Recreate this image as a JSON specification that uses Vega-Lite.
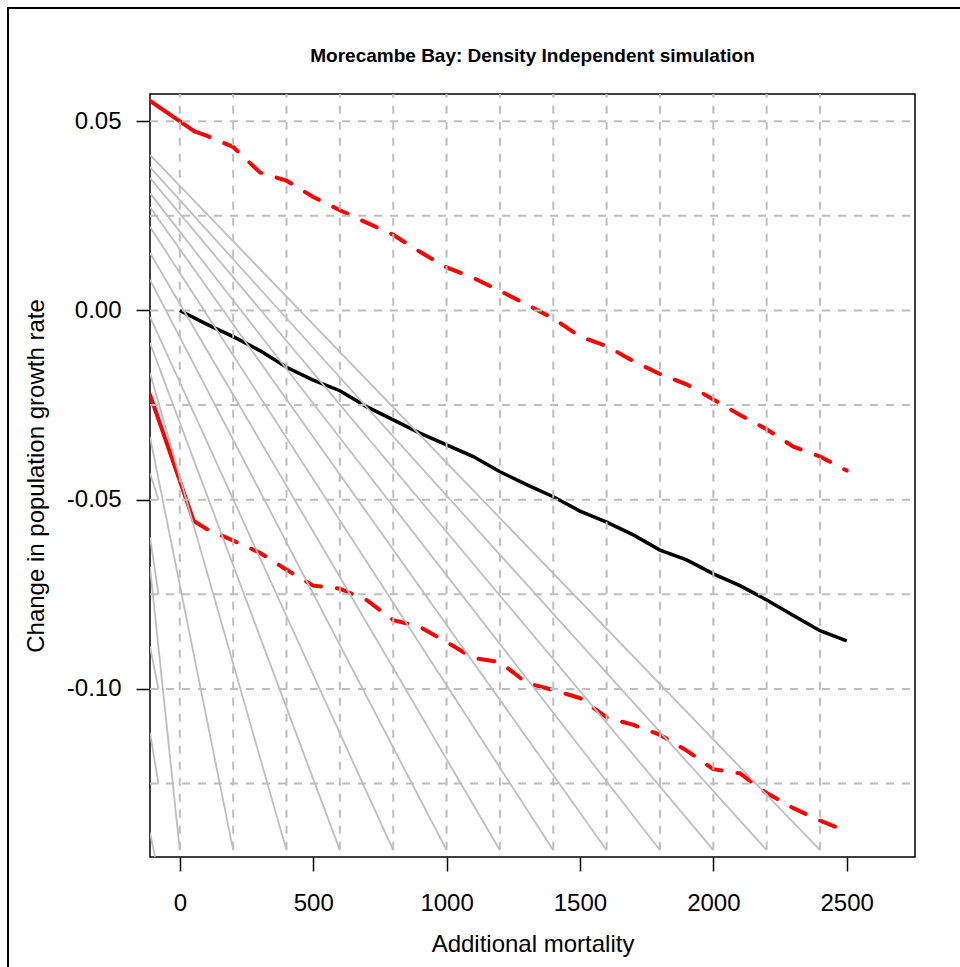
{
  "$schema": "https://vega.github.io/schema/vega-lite/v6.json",
  "width": 765,
  "height": 763,
  "autosize": "none",
  "padding": {"left": 150, "top": 94, "right": 45, "bottom": 110},
  "background": "white",
  "config": {
    "view": {"stroke": "black", "strokeWidth": 1.5},
    "font": "Liberation Sans",
    "axis": {"labelFont": "Liberation Sans", "titleFont": "Liberation Sans", "labelFontSize": 24, "titleFontSize": 24, "titleFontWeight": "normal", "labelColor": "black", "titleColor": "black", "tickColor": "black", "tickWidth": 1.5, "tickSize": 14, "domain": false, "grid": false}
  },
  "title": {"text": "Morecambe Bay: Density Independent simulation", "font": "Liberation Sans", "fontSize": 19, "fontWeight": "bold", "color": "black", "offset": 28, "dy": 87, "anchor": "middle"},
  "datasets": {
    "vgrid": [{"x": 0}, {"x": 200}, {"x": 400}, {"x": 600}, {"x": 800}, {"x": 1000}, {"x": 1200}, {"x": 1400}, {"x": 1600}, {"x": 1800}, {"x": 2000}, {"x": 2200}, {"x": 2400}],
    "hgrid": [{"y": 0.05}, {"y": 0.025}, {"y": 0}, {"y": -0.025}, {"y": -0.05}, {"y": -0.075}, {"y": -0.1}, {"y": -0.125}],
    "fan": [
      {"id": 1, "x": -111.8, "y": 0.0411}, {"id": 1, "x": 2400, "y": -0.1426},
      {"id": 2, "x": -111.8, "y": 0.0379}, {"id": 2, "x": 2200, "y": -0.1426},
      {"id": 3, "x": -111.8, "y": 0.0350}, {"id": 3, "x": 2000, "y": -0.1426},
      {"id": 4, "x": -111.8, "y": 0.0310}, {"id": 4, "x": 1800, "y": -0.1426},
      {"id": 5, "x": -111.8, "y": 0.0273}, {"id": 5, "x": 1600, "y": -0.1426},
      {"id": 6, "x": -111.8, "y": 0.0221}, {"id": 6, "x": 1400, "y": -0.1426},
      {"id": 7, "x": -111.8, "y": 0.0152}, {"id": 7, "x": 1200, "y": -0.1426},
      {"id": 8, "x": -111.8, "y": 0.0081}, {"id": 8, "x": 1000, "y": -0.1426},
      {"id": 9, "x": -111.8, "y": -0.0017}, {"id": 9, "x": 800, "y": -0.1426},
      {"id": 10, "x": -111.8, "y": -0.0086}, {"id": 10, "x": 600, "y": -0.1426},
      {"id": 11, "x": -111.8, "y": -0.0165}, {"id": 11, "x": 400, "y": -0.1426},
      {"id": 12, "x": -111.8, "y": -0.0334}, {"id": 12, "x": 200, "y": -0.1426},
      {"id": 13, "x": -111.8, "y": -0.0678}, {"id": 13, "x": 0, "y": -0.1426},
      {"id": 14, "x": -111.8, "y": -0.0430}, {"id": 14, "x": -80, "y": -0.05},
      {"id": 15, "x": -111.8, "y": -0.0599}, {"id": 15, "x": -80, "y": -0.075},
      {"id": 16, "x": -111.8, "y": -0.0888}, {"id": 16, "x": -80, "y": -0.1},
      {"id": 17, "x": -111.8, "y": -0.1116}, {"id": 17, "x": -80, "y": -0.125},
      {"id": 18, "x": -111.8, "y": -0.1380}, {"id": 18, "x": -93, "y": -0.1444}
    ],
    "black": [
      {"x": 0, "y": 0}, {"x": 100, "y": -0.0036}, {"x": 200, "y": -0.0069}, {"x": 300, "y": -0.0106}, {"x": 400, "y": -0.0150},
      {"x": 500, "y": -0.0184}, {"x": 600, "y": -0.0212}, {"x": 700, "y": -0.0254}, {"x": 800, "y": -0.0289}, {"x": 900, "y": -0.0324},
      {"x": 1000, "y": -0.0355}, {"x": 1100, "y": -0.0386}, {"x": 1200, "y": -0.0426}, {"x": 1300, "y": -0.0460}, {"x": 1400, "y": -0.0492},
      {"x": 1500, "y": -0.0530}, {"x": 1600, "y": -0.0559}, {"x": 1700, "y": -0.0593}, {"x": 1800, "y": -0.0633}, {"x": 1900, "y": -0.0659},
      {"x": 2000, "y": -0.0696}, {"x": 2100, "y": -0.0727}, {"x": 2200, "y": -0.0765}, {"x": 2300, "y": -0.0806}, {"x": 2400, "y": -0.0846}, {"x": 2500, "y": -0.0873}
    ],
    "redsolid": [
      {"s": "u", "x": -111.8, "y": 0.0554}, {"s": "u", "x": 55, "y": 0.0473},
      {"s": "l", "x": -111.8, "y": -0.0223}, {"s": "l", "x": 52, "y": -0.0556}
    ],
    "reddash": [
      {"s": "u", "x": 55, "y": 0.0473}, {"s": "u", "x": 100, "y": 0.0462}, {"s": "u", "x": 200, "y": 0.0432}, {"s": "u", "x": 300, "y": 0.0365}, {"s": "u", "x": 400, "y": 0.0343},
      {"s": "u", "x": 500, "y": 0.0300}, {"s": "u", "x": 600, "y": 0.0265}, {"s": "u", "x": 700, "y": 0.0232}, {"s": "u", "x": 800, "y": 0.0200}, {"s": "u", "x": 900, "y": 0.0155},
      {"s": "u", "x": 1000, "y": 0.0114}, {"s": "u", "x": 1100, "y": 0.0086}, {"s": "u", "x": 1200, "y": 0.0052}, {"s": "u", "x": 1300, "y": 0.0016}, {"s": "u", "x": 1400, "y": -0.0021},
      {"s": "u", "x": 1500, "y": -0.0069}, {"s": "u", "x": 1600, "y": -0.0094}, {"s": "u", "x": 1700, "y": -0.0134}, {"s": "u", "x": 1800, "y": -0.0168}, {"s": "u", "x": 1900, "y": -0.0195},
      {"s": "u", "x": 2000, "y": -0.0235}, {"s": "u", "x": 2100, "y": -0.0276}, {"s": "u", "x": 2200, "y": -0.0314}, {"s": "u", "x": 2300, "y": -0.0360}, {"s": "u", "x": 2400, "y": -0.0386}, {"s": "u", "x": 2500, "y": -0.0423},
      {"s": "l", "x": 52, "y": -0.0556}, {"s": "l", "x": 100, "y": -0.0577}, {"s": "l", "x": 200, "y": -0.0608}, {"s": "l", "x": 300, "y": -0.0640}, {"s": "l", "x": 400, "y": -0.0685},
      {"s": "l", "x": 500, "y": -0.0727}, {"s": "l", "x": 600, "y": -0.0735}, {"s": "l", "x": 700, "y": -0.0765}, {"s": "l", "x": 800, "y": -0.0818}, {"s": "l", "x": 900, "y": -0.0836},
      {"s": "l", "x": 1000, "y": -0.0876}, {"s": "l", "x": 1100, "y": -0.0918}, {"s": "l", "x": 1200, "y": -0.0929}, {"s": "l", "x": 1300, "y": -0.0984}, {"s": "l", "x": 1400, "y": -0.1003},
      {"s": "l", "x": 1500, "y": -0.1024}, {"s": "l", "x": 1600, "y": -0.1075}, {"s": "l", "x": 1700, "y": -0.1095}, {"s": "l", "x": 1800, "y": -0.1121}, {"s": "l", "x": 1900, "y": -0.1163},
      {"s": "l", "x": 2000, "y": -0.1212}, {"s": "l", "x": 2100, "y": -0.1223}, {"s": "l", "x": 2200, "y": -0.1275}, {"s": "l", "x": 2300, "y": -0.1315}, {"s": "l", "x": 2400, "y": -0.1348}, {"s": "l", "x": 2500, "y": -0.1376}
    ]
  },
  "layer": [
    {
      "data": {"name": "black"},
      "mark": {"type": "line", "color": "black", "strokeWidth": 3.5, "clip": true},
      "encoding": {
        "x": {"field": "x", "type": "quantitative", "scale": {"domain": [-111.8, 2756], "nice": false, "zero": false},
              "axis": {"values": [0, 500, 1000, 1500, 2000, 2500], "format": "d", "title": "Additional mortality", "labelPadding": 20, "titlePadding": 17}},
        "y": {"field": "y", "type": "quantitative", "scale": {"domain": [-0.1444, 0.0572], "nice": false, "zero": false},
              "axis": {"values": [-0.1, -0.05, 0, 0.05], "title": "Change in population growth rate", "labelPadding": 15, "titlePadding": 18,
                       "labelExpr": "replace(format(datum.value, '.2f'), '\u2212', '-')"}}
      }
    },
    {
      "data": {"name": "redsolid"},
      "mark": {"type": "line", "color": "#ff0000", "strokeWidth": 4, "strokeCap": "round", "clip": true},
      "encoding": {"x": {"field": "x", "type": "quantitative"}, "y": {"field": "y", "type": "quantitative"}, "detail": {"field": "s"}}
    },
    {
      "data": {"name": "reddash"},
      "mark": {"type": "line", "color": "#ff0000", "strokeWidth": 4, "strokeCap": "round", "strokeDash": [16, 16], "clip": true},
      "encoding": {"x": {"field": "x", "type": "quantitative"}, "y": {"field": "y", "type": "quantitative"}, "detail": {"field": "s"}}
    },
    {
      "data": {"name": "vgrid"},
      "mark": {"type": "rule", "color": "#bebebe", "strokeWidth": 2, "strokeDash": [8, 8]},
      "encoding": {"x": {"field": "x", "type": "quantitative"}, "y": {"datum": -0.1425}, "y2": {"datum": 0.0572}}
    },
    {
      "data": {"name": "hgrid"},
      "mark": {"type": "rule", "color": "#bebebe", "strokeWidth": 2, "strokeDash": [8, 8]},
      "encoding": {"y": {"field": "y", "type": "quantitative"}, "x": {"datum": -111.8}, "x2": {"datum": 2756}}
    },
    {
      "data": {"name": "fan"},
      "mark": {"type": "line", "color": "#bebebe", "strokeWidth": 1.8, "clip": true},
      "encoding": {"x": {"field": "x", "type": "quantitative"}, "y": {"field": "y", "type": "quantitative"}, "detail": {"field": "id"}}
    },
    {
      "data": {"values": [{}]},
      "mark": {"type": "rect", "fill": null, "stroke": "black", "strokeWidth": 2, "clip": false},
      "encoding": {"x": {"datum": -644}, "x2": {"datum": 2962}, "y": {"datum": 0.0799}, "y2": {"datum": -0.1769}}
    }
  ]
}
